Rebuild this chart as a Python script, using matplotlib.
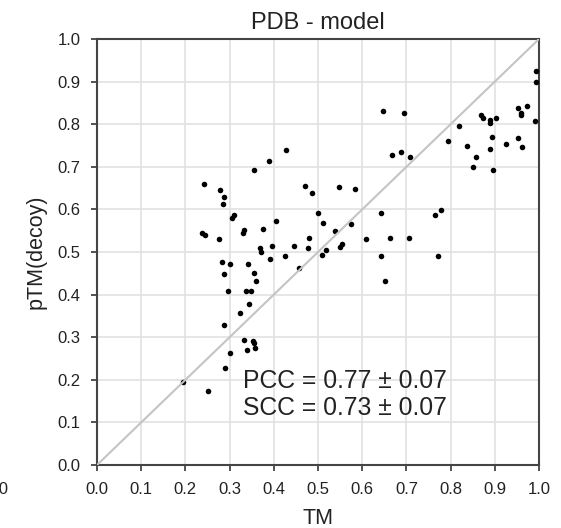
import matplotlib.pyplot as plt

plt.rcParams['font.family'] = ['Liberation Sans', 'DejaVu Sans']

# TM score vs predicted pTM of decoy
tm = [0.242, 0.279, 0.287, 0.286, 0.306, 0.311, 0.355, 0.390, 0.428, 0.470,
      0.487, 0.500, 0.404, 0.376, 0.333, 0.331, 0.238, 0.245, 0.276, 0.480,
      0.368, 0.371, 0.397, 0.391, 0.425, 0.446, 0.478, 0.456, 0.283, 0.301,
      0.342, 0.287, 0.355, 0.359, 0.296, 0.338, 0.349, 0.345, 0.324, 0.287,
      0.333, 0.353, 0.356, 0.357, 0.339, 0.301, 0.290, 0.251, 0.194, 0.994,
      0.994, 0.992, 0.973, 0.952, 0.959, 0.960, 0.903, 0.889, 0.890, 0.869,
      0.873, 0.820, 0.793, 0.838, 0.893, 0.925, 0.952, 0.962, 0.889, 0.858,
      0.851, 0.896, 0.647, 0.695, 0.668, 0.688, 0.709, 0.547, 0.584, 0.512,
      0.539, 0.574, 0.643, 0.765, 0.779, 0.609, 0.664, 0.706, 0.508, 0.519,
      0.550, 0.554, 0.643, 0.651, 0.772]
ptm = [0.660, 0.645, 0.628, 0.613, 0.581, 0.587, 0.692, 0.714, 0.739, 0.656,
       0.638, 0.591, 0.573, 0.555, 0.552, 0.545, 0.545, 0.541, 0.530, 0.534,
       0.509, 0.501, 0.513, 0.483, 0.491, 0.513, 0.509, 0.462, 0.476, 0.473,
       0.473, 0.448, 0.451, 0.433, 0.408, 0.408, 0.408, 0.379, 0.358, 0.329,
       0.293, 0.291, 0.286, 0.275, 0.271, 0.264, 0.228, 0.174, 0.194, 0.926,
       0.900, 0.808, 0.843, 0.839, 0.826, 0.821, 0.814, 0.810, 0.803, 0.821,
       0.814, 0.796, 0.761, 0.750, 0.771, 0.753, 0.768, 0.746, 0.742, 0.724,
       0.700, 0.692, 0.832, 0.826, 0.728, 0.735, 0.724, 0.652, 0.648, 0.569,
       0.549, 0.566, 0.591, 0.587, 0.598, 0.530, 0.533, 0.533, 0.493, 0.504,
       0.512, 0.519, 0.490, 0.432, 0.491]

ticks = [0.0, 0.1, 0.2, 0.3, 0.4, 0.5, 0.6, 0.7, 0.8, 0.9, 1.0]
stats_text = 'PCC = 0.77 ± 0.07\nSCC = 0.73 ± 0.07'

fig = plt.figure(figsize=(5.61, 5.28), dpi=100)
ax = fig.add_axes([0.1729, 0.1193, 0.7879, 0.8068])

ax.scatter(tm, ptm, s=16, color='black', linewidths=0, zorder=3)
ax.plot([0, 1], [0, 1], color='#c4c4c4', linewidth=1.5, zorder=4)

ax.set_xlim(0, 1)
ax.set_ylim(0, 1)
ax.set_xticks(ticks)
ax.set_yticks(ticks)
ax.set_xticklabels([f'{t:.1f}' for t in ticks])
ax.set_yticklabels([f'{t:.1f}' for t in ticks])
ax.grid(True, color='#e2e2e2', linewidth=1.2, zorder=0)
ax.set_axisbelow(True)

for side in ['left', 'bottom', 'top', 'right']:
    ax.spines[side].set_color('#444444')
    ax.spines[side].set_linewidth(1.5)
ax.tick_params(direction='out', length=4, width=1.3, color='#444444',
               labelsize=12, labelcolor='#222222', pad=8)

ax.set_title('PDB - model', fontsize=17, color='#222222', pad=7)
ax.set_xlabel('TM', fontsize=15.5, color='#222222', labelpad=8)
ax.set_ylabel('pTM(decoy)', fontsize=15.5, color='#222222', labelpad=8)

ax.text(0.330, 0.166, stats_text, fontsize=17.8, color='#222222',
        va='center', ha='left', linespacing=1.15)

# cut-off tick label of the neighbouring panel
fig.text(9 / 561, 1 - 490 / 528, '1.0', fontsize=12, color='#222222',
         ha='right', va='center')

fig.savefig('out.png', dpi=100)
